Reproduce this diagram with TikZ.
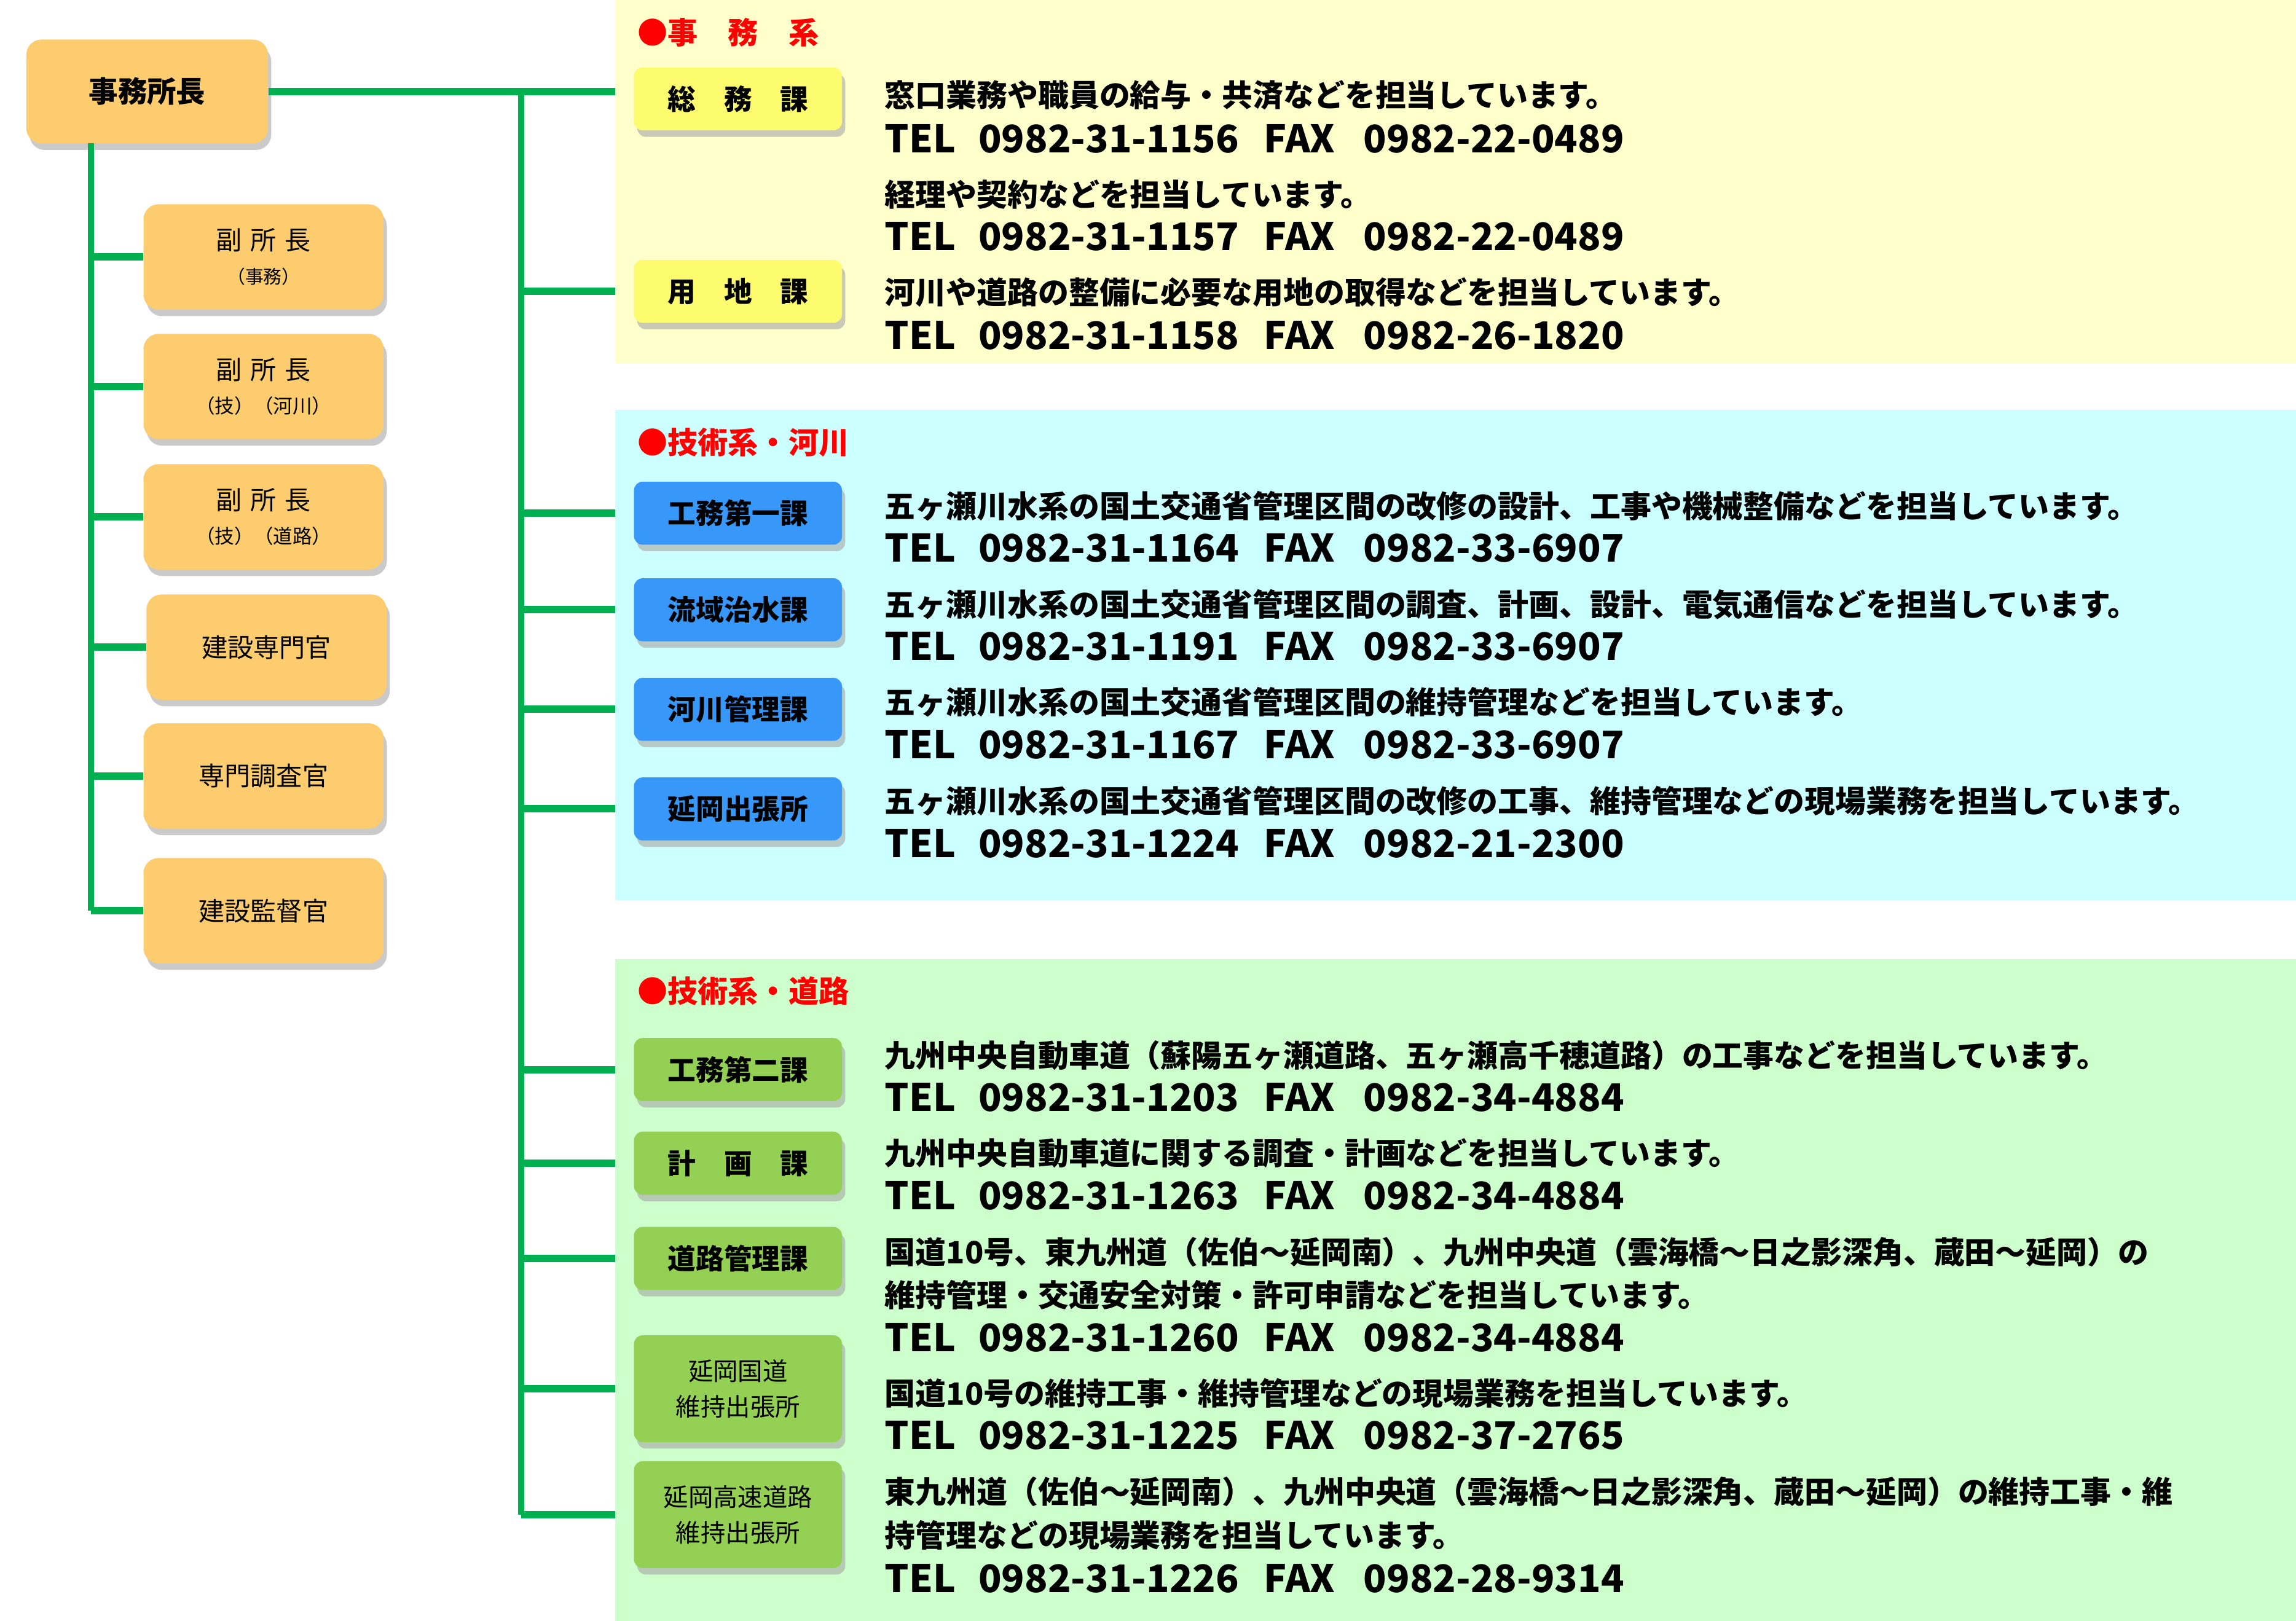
\documentclass[tikz,border=0pt]{standalone}
\usepackage{fontspec}
\setmainfont{Noto Sans CJK JP}
\usetikzlibrary{shadows}

\definecolor{orgbox}{RGB}{252,204,110}
\definecolor{ylwbox}{RGB}{252,252,110}
\definecolor{blubox}{RGB}{56,152,250}
\definecolor{grnbox}{RGB}{148,208,84}
\definecolor{ylwbg}{RGB}{255,255,204}
\definecolor{cyanbg}{RGB}{204,255,255}
\definecolor{grnbg}{RGB}{204,255,204}
\definecolor{linegreen}{RGB}{0,176,80}
\definecolor{titlered}{RGB}{255,0,0}

\def\telfont{\bfseries\fontsize{17.6}{20}\selectfont}
\def\telfax#1(#2)(#3:#4){\node[desc,font=\telfont] (#1) at (604,#2) {\makebox[43.4pt][l]{TEL}\makebox[132.2pt][l]{#3}\makebox[46.1pt][l]{FAX}#4};}

\tikzset{
  shade/.style={drop shadow={shadow xshift=1.5pt,shadow yshift=-3pt,fill=black!35,opacity=.6}},
  post/.style={shade,rounded corners=7pt,fill=orgbox,minimum width=111.2pt,minimum height=48.8pt,
    inner sep=0pt,align=center,font=\fontsize{12}{15.5}\selectfont},
  ka/.style={shade,rounded corners=4pt,minimum width=96.3pt,minimum height=29.2pt,
    inner sep=0pt,align=center,font=\bfseries\fontsize{13}{15}\selectfont},
  ka2/.style={ka,minimum height=49.5pt,font=\fontsize{11.5}{16.5}\selectfont},
  link/.style={draw=linegreen,line width=3.4pt},
  trunk/.style={draw=linegreen,line width=2.8pt},
  desc/.style={anchor=west,inner sep=0pt,font=\bfseries\fontsize{14.2}{17}\selectfont},
  title/.style={anchor=west,inner sep=0pt,text=titlered,font=\bfseries\fontsize{14}{17}\selectfont},
}

\begin{document}
\begin{tikzpicture}[x=0.02383cm,y=-0.02383cm]
  \useasboundingbox (0,0) rectangle (1568,1107);
  %%%%% PANELS %%%%%
  \fill[ylwbg] (420,0) rectangle (1568,248);
  \fill[cyanbg] (420,280) rectangle (1568,615);
  \fill[grnbg] (420,655) rectangle (1568,1107);
  \coordinate (edge) at (420,0);
  \coordinate (lt) at (62,98);
  \coordinate (rt) at (356,62);

  %%%%% LEFT SIDE %%%%%
  \node[post,font=\bfseries\fontsize{13.5}{16}\selectfont,minimum width=111.9pt,minimum height=48.1pt] (chief) at (100.5,62.5) {事務所長};
  \node[post] (fuku1) at (180,175.5) {副\,\,所\,\,長\\{\fontsize{8.5}{10}\selectfont （事務）}};
  \node[post] (fuku2) at (180,264) {副\,\,所\,\,長\\{\fontsize{9}{10}\selectfont （技）（河川）}};
  \node[post] (fuku3) at (180,353) {副\,\,所\,\,長\\{\fontsize{9}{10}\selectfont （技）（道路）}};
  \node[post] (senmon) at (182,442) {建設専門官};
  \node[post] (chosa) at (180,530) {専門調査官};
  \node[post] (kantoku) at (180,622) {建設監督官};

  %%%%% RIGHT SIDE %%%%%
  \node[title] (tjimu) at (435,22) {●事　務　系};
  \node[ka,fill=ylwbox] (somu) at (504,67.5) {総　務　課};
  \node[ka,fill=ylwbox] (yochi) at (504,199) {用　地　課};

  \node[title] (tkasen) at (435,302) {●技術系・河川};
  \node[ka,fill=blubox] (koumu1) at (504,350.5) {工務第一課};
  \node[ka,fill=blubox] (ryuiki) at (504,416.5) {流域治水課};
  \node[ka,fill=blubox] (kasen) at (504,484.5) {河川管理課};
  \node[ka,fill=blubox] (nobe) at (504,552.5) {延岡出張所};

  \node[title] (tdoro) at (435,677) {●技術系・道路};
  \node[ka,fill=grnbox] (koumu2) at (504,730.5) {工務第二課};
  \node[ka,fill=grnbox] (keikaku) at (504,794.5) {計　画　課};
  \node[ka,fill=grnbox] (doro) at (504,859.5) {道路管理課};
  \node[ka2,fill=grnbox] (kokudo) at (504,948.5) {延岡国道\\維持出張所};
  \node[ka2,fill=grnbox] (kosoku) at (504,1034.5) {延岡高速道路\\維持出張所};

  %%%%% LINES %%%%%
  \draw[trunk] (lt) -- (lt |- kantoku.west);
  \foreach \b in {fuku1,fuku2,fuku3,senmon,chosa,kantoku}
    \draw[link] (lt |- \b.west) -- (\b.west);
  \draw[link] (chief.east) -- (chief.east -| edge);
  \draw[trunk] (rt) -- (rt |- kosoku.west);
  \foreach \b in {yochi,koumu1,ryuiki,kasen,nobe,koumu2,keikaku,doro,kokudo,kosoku}
    \draw[link] (rt |- \b.west) -- (edge |- \b.west);

  %%%%% TEXTS %%%%%
  \node[desc] (d1) at (604,65) {窓口業務や職員の給与・共済などを担当しています。};
  \telfax t1(95)(0982-31-1156:0982-22-0489)
  \node[desc] (d2) at (604,133) {経理や契約などを担当しています。};
  \telfax t2(161.5)(0982-31-1157:0982-22-0489)
  \node[desc] (d3) at (604,199.5) {河川や道路の整備に必要な用地の取得などを担当しています。};
  \telfax t3(229)(0982-31-1158:0982-26-1820)

  \node[desc] (d4) at (604,345.5) {五ヶ瀬川水系の国土交通省管理区間の改修の設計、工事や機械整備などを担当しています。};
  \telfax t4(374.5)(0982-31-1164:0982-33-6907)
  \node[desc] (d5) at (604,413) {五ヶ瀬川水系の国土交通省管理区間の調査、計画、設計、電気通信などを担当しています。};
  \telfax t5(441.5)(0982-31-1191:0982-33-6907)
  \node[desc] (d6) at (604,479.5) {五ヶ瀬川水系の国土交通省管理区間の維持管理などを担当しています。};
  \telfax t6(508.5)(0982-31-1167:0982-33-6907)
  \node[desc] (d7) at (604,547) {五ヶ瀬川水系の国土交通省管理区間の改修の工事、維持管理などの現場業務を担当しています。};
  \telfax t7(576)(0982-31-1224:0982-21-2300)

  \node[desc] (d8) at (604,721) {九州中央自動車道（蘇陽五ヶ瀬道路、五ヶ瀬高千穂道路）の工事などを担当しています。};
  \telfax t8(749.5)(0982-31-1203:0982-34-4884)
  \node[desc] (d9) at (604,787.5) {九州中央自動車道に関する調査・計画などを担当しています。};
  \telfax t9(816.5)(0982-31-1263:0982-34-4884)
  \node[desc] (d10) at (604,855) {国道10号、東九州道（佐伯～延岡南）、九州中央道（雲海橋～日之影深角、蔵田～延岡）の};
  \node[desc] (d11) at (604,884.5) {維持管理・交通安全対策・許可申請などを担当しています。};
  \telfax t10(913.5)(0982-31-1260:0982-34-4884)
  \node[desc] (d12) at (604,951.5) {国道10号の維持工事・維持管理などの現場業務を担当しています。};
  \telfax t11(980.5)(0982-31-1225:0982-37-2765)
  \node[desc] (d13) at (604,1019) {東九州道（佐伯～延岡南）、九州中央道（雲海橋～日之影深角、蔵田～延岡）の維持工事・維};
  \node[desc] (d14) at (604,1048.5) {持管理などの現場業務を担当しています。};
  \telfax t12(1078)(0982-31-1226:0982-28-9314)
\end{tikzpicture}
\end{document}
